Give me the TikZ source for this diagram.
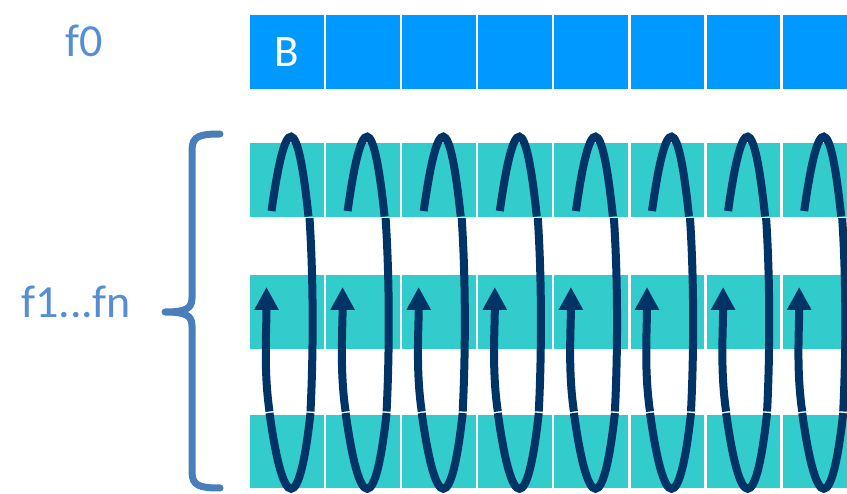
\documentclass[tikz,border=0pt]{standalone}
\usepackage{fontspec}
\setmainfont{Carlito}
\usetikzlibrary{arrows.meta}

\definecolor{topblue}{HTML}{0099FF}
\definecolor{rowteal}{HTML}{33CCCC}
\definecolor{loopnavy}{HTML}{003366}
\definecolor{bracebl}{HTML}{4A7EBB}
\definecolor{labelbl}{HTML}{558ED5}

\begin{document}
\begin{tikzpicture}[
    x=1pt, y=-1pt,
    cell/.style={draw=white, line width=2.5pt, minimum size=76.1pt, inner sep=0pt},
    topcell/.style={cell, fill=topblue},
    rowcell/.style={cell, fill=rowteal},
    loopline/.style={draw=loopnavy, line width=8pt},
    sidelabel/.style={text=labelbl, font=\fontsize{46}{54}\selectfont, anchor=base}
  ]
  \useasboundingbox (0,0) rectangle (847,494);
  \clip (0,0) rectangle (847,494);

  % cells
  \foreach \i in {0,...,7} {
    \node[topcell] (f0c\i) at (286.8+76.1*\i, 52) {};
    \foreach \r/\yy in {1/180, 2/312, 3/451.5}
      \node[rowcell] (r\r c\i) at (286.8+76.1*\i, \yy) {};
  }
  \node (b) [text=white, font=\fontsize{45}{54}\selectfont] at (f0c0) {B};

  % labels
  \node (f0) [sidelabel] at (84.5,57) {f0};
  \node (fn) [sidelabel] at (76,318) {f1...fn};

  % brace
  \draw[bracebl, line width=7pt, line cap=round, line join=round]
    (220,134) .. controls (200,134) and (192,136) .. (192,150) -- (192,298)
    .. controls (192,309) and (185,312) .. (165,312)
    .. controls (185,312) and (192,315) .. (192,326) -- (192,472)
    .. controls (192,486) and (200,488) .. (220,488);

  % loops
  \foreach \i [evaluate=\i as \cx using 291.5+76.1*\i] in {0,...,7} {
    \draw[loopline] (\cx-20,211) .. controls (\cx-6,111) and (\cx+6,111) .. (\cx+17,216.5);
    \draw[loopline] (\cx+18,218) .. controls (\cx+22,280) and (\cx+22,350) .. (\cx+19,411.5);
    \draw[loopline] (\cx+19,413) .. controls (\cx+8,514) and (\cx-8,514) .. (\cx-22,413);
    \draw[loopline, -{Triangle[width=23pt,length=23pt]}]
      (\cx-22,411.5) .. controls (\cx-28,370) and (\cx-25,330) .. (\cx-25,287);
  }
\end{tikzpicture}
\end{document}
